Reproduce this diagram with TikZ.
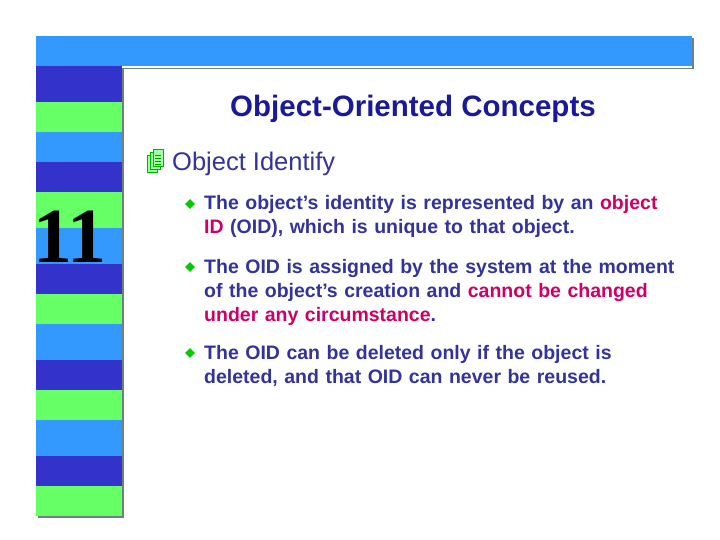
\documentclass[tikz,border=0pt]{standalone}
\usepackage{fontspec}
\setmainfont{Liberation Sans}
\newfontfamily\serifnum{Liberation Serif}
\definecolor{sblue}{HTML}{3399FF}
\definecolor{sdark}{HTML}{3333CC}
\definecolor{sgreen}{HTML}{66FF66}
\definecolor{txt}{HTML}{333399}
\definecolor{ttl}{HTML}{1A1A99}
\definecolor{hl}{HTML}{CC0066}
\definecolor{shd}{HTML}{708080}
\begin{document}
\begin{tikzpicture}[x=1pt,y=-1pt,
  body/.style={anchor=base west,inner sep=0,text=txt,font=\fontsize{19.5}{24}\selectfont\bfseries,align=left,text width=478},
  dia/.style={fill=green!80!black,draw=none,minimum size=7,inner sep=0,rotate=45}]
\useasboundingbox (0,0) rectangle (720,540);
\fill[white] (0,0) rectangle (720,540);
% shadows
\fill[shd] (124,68) rectangle (694,69);
\fill[shd] (692,38) rectangle (694,68);
\fill[shd] (122,68) rectangle (124,518);
\fill[shd] (38,516) rectangle (124,518);
\fill[sblue] (36,36) rectangle (692,66);
\foreach \a/\b/\c in {66/102/sdark,102/132/sgreen,132/162/sblue,162/192/sdark,192/228/sgreen,228/264/sblue,264/294/sdark,294/324/sgreen,324/360/sblue,360/390/sdark,390/420/sgreen,420/456/sblue,456/486/sdark,486/516/sgreen}
  \fill[\c] (36,\a) rectangle (122,\b);
\node[anchor=base,inner sep=0,font=\serifnum\fontsize{78}{78}\selectfont\bfseries] (num) at (70,262) {11};
\node[anchor=base,inner sep=0,text=ttl,font=\fontsize{29.5}{32}\selectfont\bfseries] (title) at (413,117) {Object-Oriented Concepts};
% icon
\foreach \d in {0,3,6}
  \draw[green!70!black,fill=sgreen!60!white,line width=0.6] (147+\d,155-\d) rectangle (157+\d,172-\d);
\foreach \yy in {155,158,161,164} \draw[green!60!black,line width=0.5] (155,\yy) -- (161,\yy);
\node[anchor=base west,inner sep=0,text=txt,font=\fontsize{25.5}{28}\selectfont] (sub) at (172,171) {Object Identify};
\node[dia] (d1) at (190,204) {};
\node[body] (b1) at (204,210) {The object’s identity is represented by an \textcolor{hl}{object ID} (OID), which is unique to that object.};
\node[dia] (d2) at (190,267) {};
\node[body] (b2) at (204,273) {The OID is assigned by the system at the moment of the object’s creation and \textcolor{hl}{cannot be changed under any circumstance}.};
\node[dia] (d3) at (190,353) {};
\node[body] (b3) at (204,359) {The OID can be deleted only if the object is deleted, and that OID can never be reused.};
\end{tikzpicture}
\end{document}
